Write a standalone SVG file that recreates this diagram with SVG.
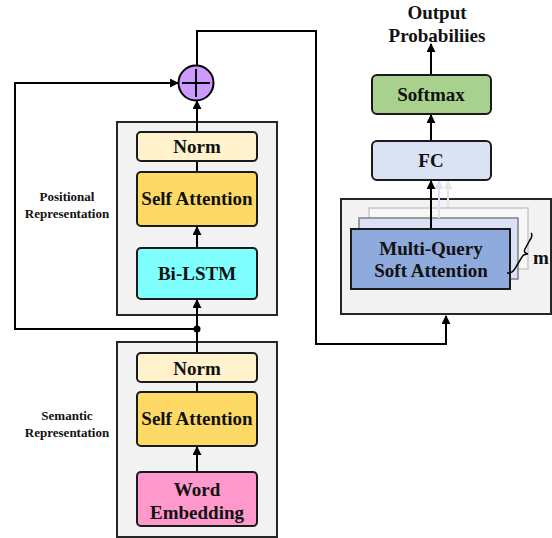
<svg xmlns="http://www.w3.org/2000/svg" width="552" height="538" viewBox="0 0 552 538">
<defs>
<marker id="ah" viewBox="0 0 10 10" refX="9" refY="5" markerWidth="9" markerHeight="9" markerUnits="userSpaceOnUse" orient="auto"><path d="M0,0 L10,5 L0,10 z" fill="#000"/></marker>
<marker id="ahb" viewBox="0 0 10 10" refX="9" refY="5" markerWidth="9" markerHeight="9" markerUnits="userSpaceOnUse" orient="auto"><path d="M0,0 L10,5 L0,10 z" fill="#DAE3F3"/></marker>
<marker id="ahg" viewBox="0 0 10 10" refX="9" refY="5" markerWidth="9" markerHeight="9" markerUnits="userSpaceOnUse" orient="auto"><path d="M0,0 L10,5 L0,10 z" fill="#E6E6E6"/></marker>
</defs>
<style>
.outer{fill:#F2F2F2;stroke:#262626;stroke-width:2}
.box{stroke:#1a1a1a;stroke-width:2}
.t{font-family:"Liberation Serif","Times New Roman",serif;font-weight:bold;font-size:19px;fill:#111;text-anchor:middle}
.lab{font-family:"Liberation Serif","Times New Roman",serif;font-weight:bold;font-size:13px;fill:#111;text-anchor:middle}
.c{fill:none;stroke:#000;stroke-width:2}
</style>
<rect width="552" height="538" fill="#fff"/>

<g id="positional">
<rect class="outer" x="117" y="122" width="160" height="193"/>
<text class="lab" x="67" y="201">Positional</text>
<text class="lab" x="67" y="218">Representation</text>
</g>
<g id="semantic">
<rect class="outer" x="117" y="342" width="160" height="195"/>
<text class="lab" x="67" y="420">Semantic</text>
<text class="lab" x="67" y="437">Representation</text>
</g>
<g id="mqbox">
<rect class="outer" x="341" y="199" width="210" height="115"/>
</g>

<g id="connectors">
<line class="c" x1="197" y1="248" x2="197" y2="227" marker-end="url(#ah)"/>
<line class="c" x1="197" y1="172" x2="197" y2="161"/>
<line class="c" x1="197" y1="132" x2="197" y2="101" marker-end="url(#ah)"/>
<polyline class="c" points="197,329 15,329 15,83 178,83" marker-end="url(#ah)"/>
<polyline class="c" points="197,66 197,31 316,31 316,344 446,344 446,316" marker-end="url(#ah)"/>
<line class="c" x1="197" y1="353" x2="197" y2="300" marker-end="url(#ah)"/>
<circle cx="197" cy="329" r="3.5" fill="#000"/>
<line class="c" x1="197" y1="472" x2="197" y2="447" marker-end="url(#ah)"/>
<line class="c" x1="197" y1="392" x2="197" y2="382"/>
<line class="c" x1="431" y1="141" x2="431" y2="115" marker-end="url(#ah)"/>
<line class="c" x1="431" y1="75" x2="431" y2="44" marker-end="url(#ah)"/>
<line x1="448" y1="218" x2="448" y2="181" stroke="#E6E6E6" stroke-width="2" marker-end="url(#ahg)"/>
</g>

<g id="layer3"><rect x="369" y="208" width="159" height="61" fill="#F7F7F7" stroke="#C8C8C8" stroke-width="1.5"/></g>
<g id="layer2"><rect x="359" y="218" width="159" height="61" fill="#DAE3F3" stroke="#808080" stroke-width="1.5"/></g>
<line x1="439" y1="218" x2="439" y2="181" stroke="#DAE3F3" stroke-width="2" marker-end="url(#ahb)"/>
<line class="c" x1="431" y1="229" x2="431" y2="181" marker-end="url(#ah)"/>

<g id="mq">
<rect x="351" y="229" width="159" height="60" fill="#8FAADC" stroke="#1a1a1a" stroke-width="2"/>
<text class="t" x="431" y="255">Multi-Query</text>
<text class="t" x="431" y="277">Soft Attention</text>
</g>
<g id="brace">
<path d="M507,273 C513,273 514,270 516,267 L522,257 C523,255 524,254 528,254 C524,253 524,251 525,249 L530,240 C532,237 533,235 531,233" fill="none" stroke="#000" stroke-width="1.5"/>
<text class="t" x="541" y="264">m</text>
</g>

<g id="plus">
<circle cx="196" cy="83" r="17.5" fill="#CC99FF" stroke="#000" stroke-width="2"/>
<line x1="182" y1="83" x2="210" y2="83" stroke="#000" stroke-width="2"/>
<line x1="196" y1="69" x2="196" y2="97" stroke="#000" stroke-width="2"/>
</g>

<g id="norm1"><rect class="box" x="137" y="132" width="120" height="29" rx="4" fill="#FFF2CC"/><text class="t" x="197" y="153">Norm</text></g>
<g id="sa1"><rect class="box" x="137" y="172" width="120" height="54" rx="4" fill="#FFD966"/><text class="t" x="197" y="205">Self Attention</text></g>
<g id="bilstm"><rect class="box" x="137" y="248" width="120" height="51" rx="4" fill="#80FFFF"/><text class="t" x="197" y="280">Bi-LSTM</text></g>

<g id="norm2"><rect class="box" x="137" y="353" width="120" height="29" rx="4" fill="#FFF2CC"/><text class="t" x="197" y="375">Norm</text></g>
<g id="sa2"><rect class="box" x="137" y="392" width="120" height="54" rx="4" fill="#FFD966"/><text class="t" x="197" y="425">Self Attention</text></g>
<g id="we"><rect class="box" x="137" y="472" width="120" height="54" rx="4" fill="#FF99CC"/><text class="t" x="197" y="496">Word</text><text class="t" x="197" y="519">Embedding</text></g>

<g id="fc"><rect class="box" x="372" y="141" width="119" height="39" rx="5" fill="#DAE3F3"/><text class="t" x="431" y="167">FC</text></g>
<g id="softmax"><rect class="box" x="372" y="75" width="119" height="39" rx="5" fill="#A9D18E"/><text class="t" x="431" y="101">Softmax</text></g>
<g id="output"><text class="t" x="437" y="19">Output</text><text class="t" x="437" y="42">Probabiliies</text></g>
</svg>
